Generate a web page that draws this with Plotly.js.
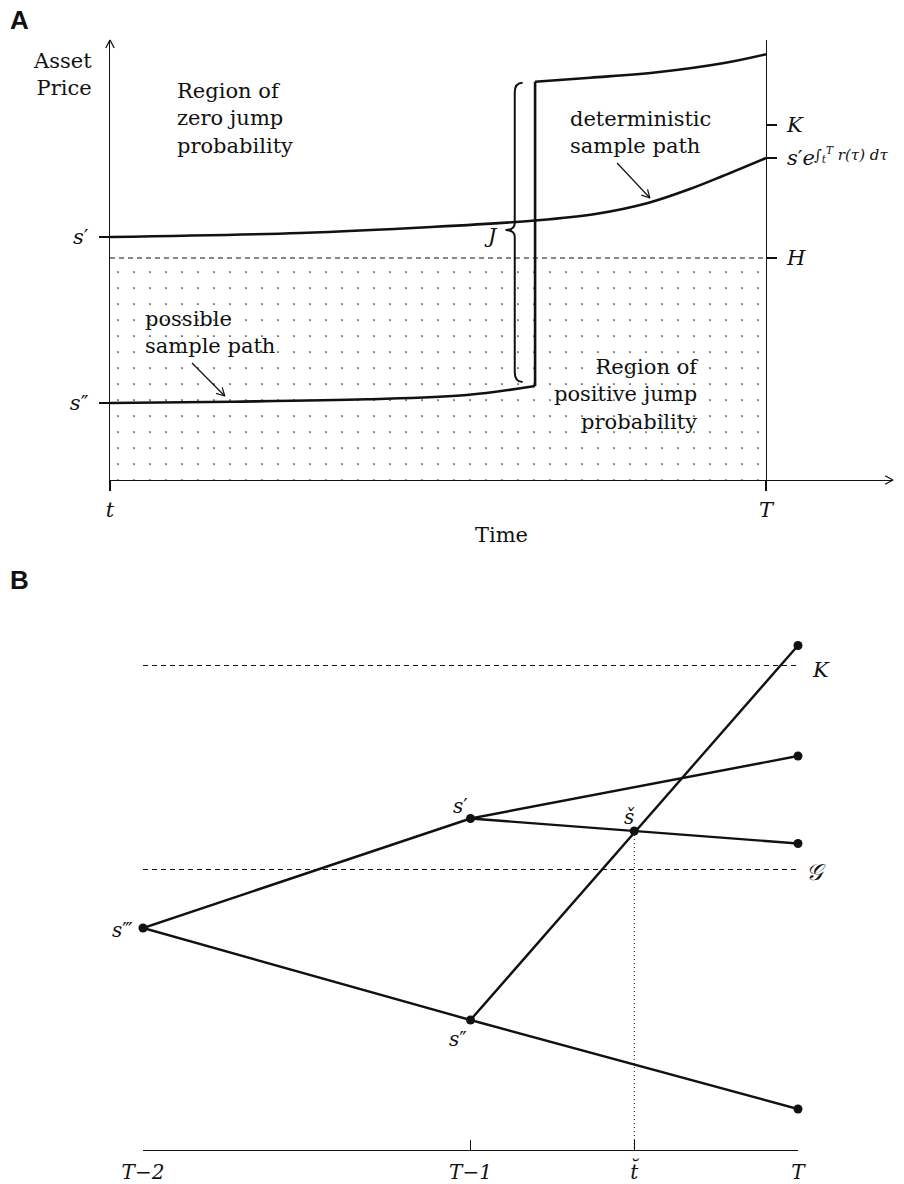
<!DOCTYPE html>
<html><head><meta charset="utf-8">
<script src="https://cdn.plot.ly/plotly-3.0.1.min.js"></script>
<style>body{margin:0;background:#fff}#chart{width:904px;height:1184px}</style>
</head><body><div id="chart"></div>
<script>
// ---------- Panel A : time t -> T (0 -> 1), asset price ----------
const timeTicksA = [0, 1];
const timeTickTextA = ['t', 'T'];
const sPrime = 2.43;
const sDouble = 0.77;
const barrierH = 2.22;
const strikeKA = 3.55;
const detT = [0, 0.29, 0.49, 0.648, 0.74, 0.82, 0.884, 0.934, 1.0];
const detP = [2.43, 2.47, 2.53, 2.595, 2.66, 2.77, 2.91, 3.04, 3.22];
const lowT = [0, 0.1875, 0.392, 0.544, 0.648];
const lowP = [0.77, 0.783, 0.807, 0.85, 0.94];
const upT = [0.648, 0.732, 0.834, 0.934, 1.0];
const upP = [3.983, 4.023, 4.077, 4.167, 4.257];
const jumpT = 0.648;
const braceT = 0.617;

// ---------- Panel B : binomial tree, T-2 -> T (0 -> 2) ----------
const timeB = [0, 1, 1.5, 2];
const timeBText = ['T\u22122', 'T\u22121', 't\u0306', 'T'];
const sTriple = 2.22;
const sOne = 3.315;
const sTwo = 1.30;
const sCheck = 3.19;
const termUp = 5.045;
const termOneUp = 3.94;
const termOneDown = 3.065;
const termTwoDown = 0.41;
const strikeKB = 4.845;
const barrierG = 2.805;

// ---------- helpers ----------
const W = 904, Hh = 1184;
const px = x => x / W, py = y => 1 - y / Hh;
const SERIF = 'DejaVu Serif';
const BLK = '#111';
const thick = 2.6;
// panel A frame (pixels) and extents (data units)
const A_LEFT = 110, A_RIGHT = 893, A_BOTTOM = 480, A_TOP = 40;
const xMaxA = 1.1936, yMaxA = 4.40;
const kx = (A_RIGHT - A_LEFT) / xMaxA, ky = (A_BOTTOM - A_TOP) / yMaxA;

const traces = [];
// stipple region (positive jump probability)
traces.push({x: [0, 1, 1, 0, 0], y: [0, 0, barrierH, barrierH, 0], xaxis: 'x', yaxis: 'y',
  mode: 'none', fill: 'toself', fillcolor: 'rgba(0,0,0,0)',
  fillpattern: {shape: '.', size: 16, solidity: 0.009, fgcolor: '#222', bgcolor: 'rgba(0,0,0,0)'}});
// barrier H
traces.push({x: [0, 1], y: [barrierH, barrierH], mode: 'lines', line: {color: BLK, width: 1.2, dash: '5px,4px'}});
// deterministic path
traces.push({x: detT, y: detP, mode: 'lines', line: {color: BLK, width: thick, shape: 'spline', smoothing: 1}});
// possible sample path: lower part, jump, upper part
traces.push({x: lowT, y: lowP, mode: 'lines', line: {color: BLK, width: thick, shape: 'spline', smoothing: 1}});
traces.push({x: [jumpT, jumpT], y: [lowP[lowP.length - 1], upP[0]], mode: 'lines', line: {color: BLK, width: thick}});
traces.push({x: upT, y: upP, mode: 'lines', line: {color: BLK, width: thick, shape: 'spline', smoothing: 1}});

// open (V) arrow from tail to head in panel-A data units; head drawn as a chevron.
// Drawn on full-page helper axes (x3/y4) that share panel A's scale, so nothing is clipped.
function vArrow(tx, ty, hx, hy, shaft, headLen, width) {
  const dx = (hx - tx) * kx, dy = (hy - ty) * ky;
  const L = Math.hypot(dx, dy), ux = dx / L, uy = dy / L;
  const a = 28 * Math.PI / 180, c = Math.cos(a), s = Math.sin(a);
  const r1x = ux * c - uy * s, r1y = ux * s + uy * c;
  const r2x = ux * c + uy * s, r2y = -ux * s + uy * c;
  const xs = [hx - headLen * r1x / kx, hx, hx - headLen * r2x / kx];
  const ys = [hy - headLen * r1y / ky, hy, hy - headLen * r2y / ky];
  if (shaft) { xs.push(null, tx, hx); ys.push(null, ty, hy); }
  return {x: xs, y: ys, xaxis: 'x3', yaxis: 'y4', mode: 'lines', line: {color: BLK, width: width}};
}
traces.push(vArrow(0.773, 3.17, 0.823, 2.82, true, 9, 1.2));
traces.push(vArrow(0.125, 1.17, 0.175, 0.84, true, 9, 1.2));
traces.push(vArrow(0, 4.0, 0, yMaxA, false, 9, 1.3));
traces.push(vArrow(1.1, 0, xMaxA, 0, false, 9, 1.3));

// Panel B
const bx = 'x2', by = 'y2';
const lb = {color: BLK, width: 2.4};
traces.push({x: [0, 2], y: [strikeKB, strikeKB], xaxis: bx, yaxis: by, mode: 'lines', line: {color: BLK, width: 1.2, dash: '5px,4px'}});
traces.push({x: [0, 2], y: [barrierG, barrierG], xaxis: bx, yaxis: by, mode: 'lines', line: {color: BLK, width: 1.2, dash: '5px,4px'}});
traces.push({x: [1.5, 1.5], y: [sCheck, 0], xaxis: bx, yaxis: by, mode: 'lines', line: {color: BLK, width: 1, dash: '1px,3px'}});
traces.push({x: [0, 1], y: [sTriple, sOne], xaxis: bx, yaxis: by, mode: 'lines', line: lb});
traces.push({x: [0, 1, 2], y: [sTriple, sTwo, termTwoDown], xaxis: bx, yaxis: by, mode: 'lines', line: lb});
traces.push({x: [1, 2], y: [sOne, termOneUp], xaxis: bx, yaxis: by, mode: 'lines', line: lb});
traces.push({x: [1, 1.5, 2], y: [sOne, sCheck, termOneDown], xaxis: bx, yaxis: by, mode: 'lines', line: lb});
traces.push({x: [1, 2], y: [sTwo, termUp], xaxis: bx, yaxis: by, mode: 'lines', line: lb});
traces.push({x: [0, 1, 1, 1.5, 2, 2, 2, 2], y: [sTriple, sOne, sTwo, sCheck, termUp, termOneUp, termOneDown, termTwoDown],
  xaxis: bx, yaxis: by, mode: 'markers', cliponaxis: false, marker: {color: BLK, size: 9}});

// brace J (drawn over the jump)
const bTop = upP[0] - 0.01, bBot = lowP[lowP.length - 1] + 0.04, bMid = 2.50;
const hookT = braceT + 0.012, tipT = braceT - 0.014;
const bracePath = `M${hookT},${bTop} Q${braceT},${bTop} ${braceT},${bTop - 0.1} L${braceT},${bMid + 0.07} Q${braceT},${bMid} ${tipT},${bMid} Q${braceT},${bMid} ${braceT},${bMid - 0.07} L${braceT},${bBot + 0.1} Q${braceT},${bBot} ${hookT},${bBot}`;

const tf = (size, style) => ({family: SERIF, size: size, color: BLK, style: style || 'normal'});
const ann = (x, y, text, opts) => Object.assign({xref: 'paper', yref: 'paper', x: px(x), y: py(y), text: text,
  yanchor: 'middle', showarrow: false, font: tf(21)}, opts || {});

const annotations = [
  ann(8, 20, '<b>A</b>', {xanchor: 'left', font: {family: 'Liberation Sans', size: 26, color: BLK}}),
  ann(8, 580, '<b>B</b>', {xanchor: 'left', font: {family: 'Liberation Sans', size: 26, color: BLK}}),
  ann(94, 74, 'Asset<br>Price', {xanchor: 'right', align: 'right'}),
  ann(175, 118.5, 'Region of<br>zero jump<br>probability', {xanchor: 'left', align: 'left'}),
  ann(568, 132, 'deterministic<br>sample path', {xanchor: 'left', align: 'left'}),
  ann(143, 332, 'possible<br>sample path', {xanchor: 'left', align: 'left'}),
  ann(701, 394, 'Region of<br>positive jump<br>probability', {xanchor: 'right', align: 'right'}),
  {xref: 'x', yref: 'y', x: tipT, y: bMid, xshift: -6, yshift: -6, xanchor: 'right', yanchor: 'middle', text: 'J', showarrow: false, font: tf(21, 'italic')},
  {xref: 'x', yref: 'y', x: 1, y: detP[detP.length - 1], xshift: 46, yshift: 4, xanchor: 'left', yanchor: 'middle',
    text: '\u222B<sub>t</sub><sup>T</sup> r(\u03C4) d\u03C4', showarrow: false, font: tf(15, 'italic')},
  // Panel B labels
  {xref: 'x2', yref: 'y2', x: 0, y: sTriple, xshift: -8, yshift: -2, xanchor: 'right', yanchor: 'middle', text: '<i>s</i>\u2034', showarrow: false, font: tf(20)},
  {xref: 'x2', yref: 'y2', x: 1, y: sOne, xshift: -1, yshift: -1, xanchor: 'right', yanchor: 'bottom', text: '<i>s</i>\u2032', showarrow: false, font: tf(20)},
  {xref: 'x2', yref: 'y2', x: 1.5, y: sCheck, xshift: -5, yshift: 0, xanchor: 'center', yanchor: 'bottom', text: '\u0161', showarrow: false, font: tf(20, 'italic')},
  {xref: 'x2', yref: 'y2', x: 1, y: sTwo, xshift: -2, yshift: -5, xanchor: 'right', yanchor: 'top', text: '<i>s</i>\u2033', showarrow: false, font: tf(20)},
  {xref: 'x2', yref: 'y2', x: 2, y: strikeKB, xshift: 12, yshift: -4, xanchor: 'left', yanchor: 'middle', text: 'K', showarrow: false, font: tf(21, 'italic')},
  {xref: 'x2', yref: 'y2', x: 2, y: barrierG, xshift: 6, yshift: -2, xanchor: 'left', yanchor: 'middle', text: '\uD835\uDCA2', showarrow: false, font: tf(23, 'italic')}
];

const hidden = {visible: false, showgrid: false, zeroline: false, fixedrange: true};
const layout = {
  width: W, height: Hh, margin: {l: 0, r: 0, t: 0, b: 0}, showlegend: false,
  paper_bgcolor: '#fff', plot_bgcolor: 'rgba(0,0,0,0)',
  xaxis: {domain: [px(A_LEFT), px(A_RIGHT)], range: [0, xMaxA], anchor: 'y', showgrid: false, zeroline: false,
    showline: true, linecolor: BLK, linewidth: 1.3, ticks: 'outside', ticklen: 10, tickwidth: 1.2, tickcolor: BLK,
    tickvals: timeTicksA, ticktext: timeTickTextA, tickfont: tf(21, 'italic'),
    title: {text: 'Time', font: tf(21), standoff: 6}, automargin: false},
  yaxis: {domain: [py(A_BOTTOM), py(A_TOP)], range: [0, yMaxA], anchor: 'x', showgrid: false, zeroline: false,
    showline: true, linecolor: BLK, linewidth: 1.3, ticks: 'outside', ticklen: 10, tickwidth: 1.2, tickcolor: BLK,
    tickvals: [sPrime, sDouble], ticktext: ['<i>s</i>\u2032', '<i>s</i>\u2033'], tickfont: tf(21), ticklabelstandoff: 6, automargin: false},
  yaxis3: {overlaying: 'y', anchor: 'free', position: px(765.5), side: 'right', range: [0, yMaxA], showgrid: false, zeroline: false,
    showline: true, linecolor: BLK, linewidth: 1.3, ticks: 'outside', ticklen: 10, tickwidth: 1.2, tickcolor: BLK,
    tickvals: [strikeKA, detP[detP.length - 1], barrierH], ticktext: ['<i>K</i>', '<i>s</i>\u2032<i>e</i>', '<i>H</i>'], tickfont: tf(21),
    ticklabelstandoff: 6, automargin: false},
  // full-page helper axes on panel A's scale (for arrowheads that sit on the frame edges)
  xaxis3: Object.assign({domain: [0, 1], anchor: 'y4', range: [-A_LEFT / kx, (W - A_LEFT) / kx]}, hidden),
  yaxis4: Object.assign({domain: [0, 1], anchor: 'x3', range: [-(Hh - A_BOTTOM) / ky, A_BOTTOM / ky]}, hidden),
  xaxis2: {domain: [px(143), px(798)], range: [0, 2], anchor: 'y2', showgrid: false, zeroline: false,
    showline: true, linecolor: BLK, linewidth: 1.2, ticks: 'inside', ticklen: 10, tickwidth: 1.2, tickcolor: BLK,
    tickvals: timeB, ticktext: timeBText, tickfont: tf(20, 'italic'), ticklabelstandoff: 4, automargin: false},
  yaxis2: {domain: [py(1150), py(592)], range: [0, 5.58], anchor: 'x2', visible: false, showgrid: false, zeroline: false},
  shapes: [{type: 'path', xref: 'x', yref: 'y', path: bracePath, line: {color: BLK, width: 2}}],
  annotations: annotations
};
// a dummy trace so yaxis3 is drawn
traces.push({x: [0], y: [0], xaxis: 'x', yaxis: 'y3', mode: 'markers', marker: {size: 0, opacity: 0}, hoverinfo: 'skip'});

Plotly.newPlot('chart', traces, layout, {staticPlot: true});
</script></body></html>
